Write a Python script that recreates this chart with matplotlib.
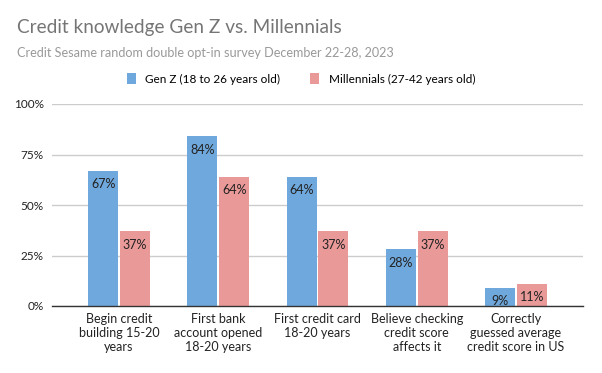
import numpy as np
from matplotlib import pyplot as plt, ticker

plt.rcParams['font.family'] = ['Lato', 'DejaVu Sans']

# 数据
categories = ["Begin credit\nbuilding 15-20\nyears",
              "First bank\naccount opened\n18-20 years",
              "First credit card\n18-20 years",
              "Believe checking\ncredit score\naffects it",
              "Correctly\nguessed average\ncredit score in US"]
gen_z = [67, 84, 64, 28, 9]
millennials = [37, 64, 37, 37, 11]
series_names = ["Gen Z (18 to 26 years old)", "Millennials (27-42 years old)"]

blue = "#6fa8dc"
pink = "#ea9999"

fig = plt.figure(figsize=(6.02, 3.73), dpi=100)
ax = fig.add_axes([52 / 602, 1 - 306 / 373, 531 / 602, 202 / 373])

x = np.arange(len(categories))
w = 0.3
b1 = ax.bar(x - 0.16, gen_z, width=w, color=blue, label=series_names[0], zorder=3)
b2 = ax.bar(x + 0.16, millennials, width=w, color=pink, label=series_names[1], zorder=3)

# 数据标签(柱内顶部)
for bars, vals in ((b1, gen_z), (b2, millennials)):
    for rect, v in zip(bars, vals):
        ax.annotate(f"{v}%", xy=(rect.get_x() + rect.get_width() / 2, v),
                    xytext=(0, -5.5), textcoords="offset points",
                    ha="center", va="top", fontsize=9, color="#222222", zorder=4)

ax.set_xlim(-0.675, 4.675)
ax.set_ylim(0, 100)
ax.yaxis.set_major_locator(ticker.MultipleLocator(25))
ax.yaxis.set_major_formatter(lambda v, _: f"{v:.0f}%")
ax.set_xticks(x)
ax.set_xticklabels(categories, fontsize=9, color="#222222", linespacing=1.2)
ax.tick_params(axis="y", labelsize=8.5, colors="#222222", length=0, pad=6)
ax.tick_params(axis="x", length=0, pad=5)

ax.grid(axis="y", color="#cccccc", linewidth=1)
ax.set_axisbelow(True)
for s in ("top", "right", "left"):
    ax.spines[s].set_visible(False)
ax.spines["bottom"].set_color("#333333")
ax.spines["bottom"].set_linewidth(1)
ax.spines["bottom"].set_zorder(5)

fig.text(17 / 602, 1 - 27 / 373, "Credit knowledge Gen Z vs. Millennials",
         fontsize=13.7, color="#757575", va="center", ha="left")
fig.text(17 / 602, 1 - 53 / 373, "Credit Sesame random double opt-in survey December 22-28, 2023",
         fontsize=9.1, color="#999999", va="center", ha="left")

fig.legend(loc="center", bbox_to_anchor=(0.5, 1 - 79 / 373), ncol=2, frameon=False,
           fontsize=8.5, handlelength=0.8, handleheight=1.1, columnspacing=2.5,
           handletextpad=0.8)

plt.savefig("out.png", dpi=100)
